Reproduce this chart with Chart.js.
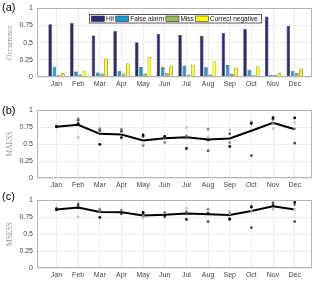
<!DOCTYPE html>
<html>
<head>
<meta charset="utf-8">
<script src="https://cdn.jsdelivr.net/npm/chart.js@4.4.0/dist/chart.umd.min.js"></script>
<style>
  body { margin: 0; background: #fff; width: 320px; height: 283px; position: relative; overflow: hidden; }
  .box { position: absolute; left: 0; width: 320px; }
  .lab { position: absolute; left: 2px; font: 11px "Liberation Sans", Arial, sans-serif; line-height: 13px; color: #000; }
</style>
</head>
<body>
<div class="box" style="top:0;height:95px"><canvas id="chartA"></canvas></div>
<div class="box" style="top:95px;height:97px"><canvas id="chartB"></canvas></div>
<div class="box" style="top:192px;height:91px"><canvas id="chartC"></canvas></div>
<div class="lab" style="top:1px">(a)</div>
<div class="lab" style="top:104px">(b)</div>
<div class="lab" style="top:190px">(c)</div>
<script>
// valores
const months = ['Jan', 'Feb', 'Mar', 'Apr', 'May', 'Jun', 'Jul', 'Aug', 'Sep', 'Oct', 'Nov', 'Dec'];
const yTicks = [0, 0.25, 0.5, 0.75, 1];

// (a) ocurrencia
const hit        = [0.765, 0.785, 0.605, 0.67, 0.505, 0.625, 0.61, 0.595, 0.64, 0.70, 0.88, 0.74];
const falseAlarm = [0.15, 0.08, 0.067, 0.082, 0.144, 0.14, 0.168, 0.14, 0.173, 0.106, 0.034, 0.082];
const miss       = [0.024, 0.038, 0.052, 0.052, 0.052, 0.062, 0.038, 0.038, 0.043, 0.034, 0.024, 0.053];
const correctNeg = [0.053, 0.091, 0.27, 0.197, 0.288, 0.168, 0.178, 0.225, 0.135, 0.154, 0.053, 0.12];

// (b) MAESS
const maessMean  = [0.755, 0.783, 0.65, 0.64, 0.552, 0.586, 0.598, 0.565, 0.58, 0.695, 0.812, 0.716];
const maessBlack = [0.755, 0.80, 0.495, 0.595, 0.632, 0.61, 0.434, 0.56, 0.463, 0.80, 0.888, 0.883];
const maessDark  = [0.76, 0.85, 0.70, 0.688, 0.61, 0.60, 0.60, 0.40, 0.649, 0.33, 0.863, 0.512];
const maessGrey  = [0.75, 0.868, 0.725, 0.717, 0.475, 0.522, 0.62, 0.717, 0.52, 0.82, 0.80, 0.722];
const maessLight = [0.765, 0.598, 0.68, 0.665, 0.49, 0.60, 0.74, 0.60, 0.707, 0.83, 0.727, 0.815];

// (c) MSESS
const msessMean  = [0.862, 0.892, 0.825, 0.822, 0.776, 0.784, 0.805, 0.792, 0.782, 0.84, 0.911, 0.862];
const msessBlack = [0.86, 0.89, 0.746, 0.82, 0.82, 0.78, 0.717, 0.80, 0.717, 0.90, 0.92, 0.966];
const msessDark  = [0.87, 0.93, 0.83, 0.80, 0.80, 0.756, 0.81, 0.683, 0.727, 0.595, 0.961, 0.683];
const msessGrey  = [0.883, 0.95, 0.868, 0.854, 0.78, 0.82, 0.83, 0.868, 0.80, 0.84, 0.90, 0.932];
const msessLight = [0.854, 0.756, 0.84, 0.83, 0.737, 0.80, 0.883, 0.82, 0.834, 0.92, 0.863, 0.863];

const tickFont = { family: '"Liberation Sans", Arial, sans-serif', size: 7 };
const tickColor = '#444';
const gridColor = '#ececec';

function pts(arr) {
    return arr.map((v, i) => ({ x: i + 1, y: v }));
}

// marco tipo MATLAB (box on)
const framePlugin = {
    id: 'frame',
    afterDraw(chart) {
        const a = chart.chartArea;
        const ctx = chart.ctx;
        ctx.save();
        ctx.strokeStyle = '#b4b4b4';
        ctx.lineWidth = 1;
        ctx.strokeRect(Math.round(a.left) + 0.5, Math.round(a.top) + 0.5,
            Math.round(a.right - a.left) - 1, Math.round(a.bottom - a.top) - 1);
        ctx.restore();
    }
};

// leyenda dentro del área del gráfico
const insideLegend = {
    id: 'insideLegend',
    afterDraw(chart) {
        const ctx = chart.ctx;
        const sets = chart.data.datasets;
        const x0 = 89.5, y0 = 14.5, h = 8.5, w = 172;
        ctx.save();
        ctx.font = '6.5px "Liberation Sans", Arial, sans-serif';
        let textW = 0;
        sets.forEach(ds => { textW += ctx.measureText(ds.label).width; });
        const gap = (w - 4 - sets.length * 14.5 - textW) / sets.length;
        ctx.fillStyle = '#fff';
        ctx.fillRect(x0, y0, w, h);
        ctx.strokeStyle = '#333';
        ctx.lineWidth = 0.8;
        ctx.strokeRect(x0, y0, w, h);
        let x = x0 + 2;
        sets.forEach(ds => {
            ctx.fillStyle = ds.backgroundColor;
            ctx.fillRect(x, y0 + 1.5, 13, 5.5);
            ctx.strokeStyle = '#333';
            ctx.lineWidth = 0.6;
            ctx.strokeRect(x, y0 + 1.5, 13, 5.5);
            x += 14.5;
            ctx.fillStyle = '#111';
            ctx.textBaseline = 'middle';
            ctx.fillText(ds.label, x, y0 + h / 2 + 0.3);
            x += ctx.measureText(ds.label).width + gap;
        });
        ctx.restore();
    }
};

function makeScales(yTitle, xHeight) {
    return {
        x: {
            type: 'linear', min: 0.1, max: 12.8, offset: false,
            afterBuildTicks: s => { s.ticks = months.map((m, i) => ({ value: i + 1 })); },
            ticks: { font: tickFont, color: tickColor, padding: 3, autoSkip: false, maxRotation: 0,
                callback: v => months[v - 1] || '' },
            grid: { color: gridColor, drawTicks: false, offset: false },
            border: { display: false },
            afterFit: s => { s.height = xHeight; }
        },
        y: {
            min: 0, max: 1,
            afterBuildTicks: s => { s.ticks = yTicks.map(v => ({ value: v })); },
            ticks: { font: tickFont, color: tickColor, padding: 4, callback: v => String(v) },
            grid: { color: gridColor, drawTicks: false },
            border: { display: false },
            title: { display: true, text: yTitle, color: '#999',
                font: { family: '"Liberation Serif", "Times New Roman", serif', size: 7.5 },
                padding: { top: 6, bottom: 0 } },
            afterFit: s => { s.width = 37; }
        }
    };
}

function commonOptions(yTitle, padTop, xHeight) {
    return {
        responsive: true,
        maintainAspectRatio: false,
        animation: false,
        layout: { padding: { left: 0, right: 8, top: padTop, bottom: 0 } },
        plugins: { legend: { display: false }, tooltip: { enabled: false } },
        scales: makeScales(yTitle, xHeight)
    };
}

// (a) barras agrupadas
new Chart(document.getElementById('chartA'), {
    type: 'bar',
    data: {
        datasets: [
            { label: 'Hit', data: pts(hit), backgroundColor: '#2b2979' },
            { label: 'False alarm', data: pts(falseAlarm), backgroundColor: '#1b9ad2' },
            { label: 'Miss', data: pts(miss), backgroundColor: '#9bbb5c' },
            { label: 'Correct negative', data: pts(correctNeg), backgroundColor: '#ffff00' }
        ].map(ds => Object.assign(ds, {
            borderColor: '#3a3a3a', borderWidth: 0.6,
            categoryPercentage: 0.78, barPercentage: 0.85
        }))
    },
    options: commonOptions('Occurrence', 7, 18),
    plugins: [framePlugin, insideLegend]
});

function skillChart(id, yTitle, mean, series, padTop, xHeight) {
    const shades = ['#000000', '#4d4d4d', '#8a8a8a', '#c2c2c2'];
    const datasets = [{
        label: 'mean', data: pts(mean), borderColor: '#000', borderWidth: 2,
        pointRadius: 0, tension: 0, fill: false, order: 5
    }];
    series.forEach((s, k) => {
        datasets.push({
            label: 's' + k, data: pts(s), showLine: false,
            pointRadius: 1.4, pointBorderWidth: 0,
            pointBackgroundColor: shades[k], borderColor: shades[k], order: k
        });
    });
    new Chart(document.getElementById(id), {
        type: 'line',
        data: { datasets: datasets },
        options: commonOptions(yTitle, padTop, xHeight),
        plugins: [framePlugin]
    });
}

skillChart('chartB', 'MAESS', maessMean, [maessBlack, maessDark, maessGrey, maessLight], 15, 14);
skillChart('chartC', 'MSESS', msessMean, [msessBlack, msessDark, msessGrey, msessLight], 8, 15);
</script>
</body>
</html>
